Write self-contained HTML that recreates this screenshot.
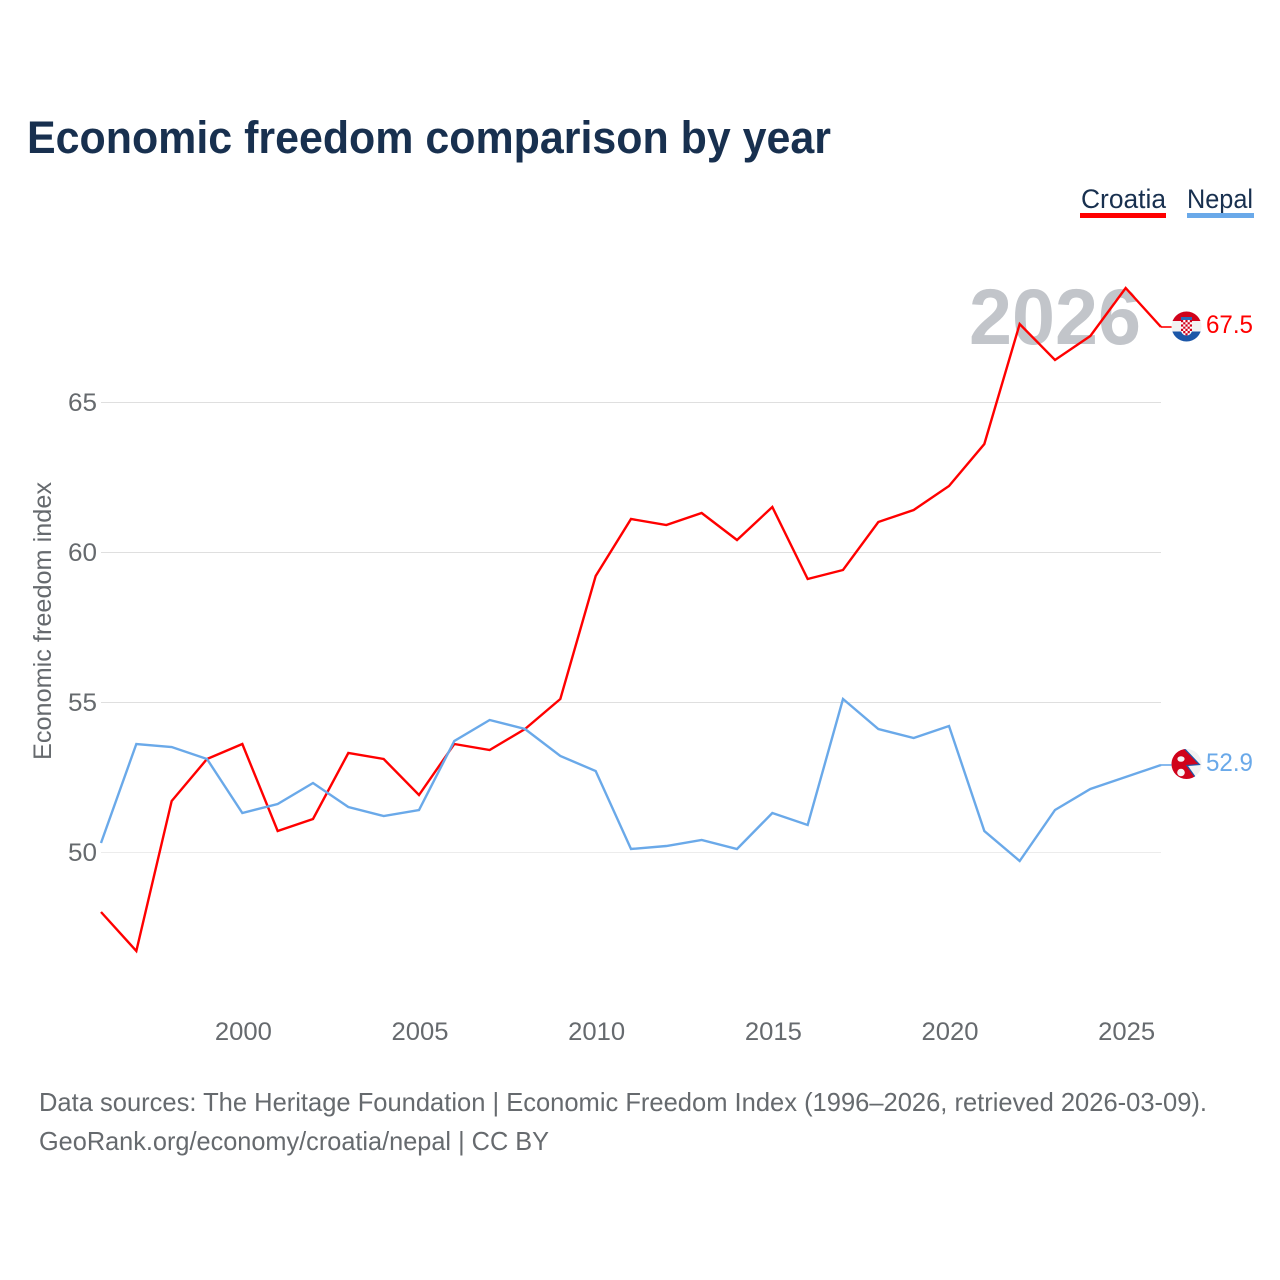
<!DOCTYPE html>
<html lang="en">
<head>
<meta charset="utf-8">
<title>Economic freedom comparison by year</title>
<style>
html,body{margin:0;padding:0;background:#fff;}
svg{display:block;font-family:"Liberation Sans",sans-serif;}
</style>
</head>
<body>
<svg id="chart" xmlns="http://www.w3.org/2000/svg" width="1280" height="1280" viewBox="0 0 1280 1280">
  <rect width="1280" height="1280" fill="#ffffff"/>
  <text x="27" y="153" font-size="45" font-weight="700" fill="#18304f" textLength="804" lengthAdjust="spacingAndGlyphs">Economic freedom comparison by year</text>
  <g id="grid"></g>
  <text x="1141" y="344" font-size="79" font-weight="700" fill="#c2c5ca" text-anchor="end" textLength="172" lengthAdjust="spacingAndGlyphs">2026</text>
  <g id="yticks"></g>
  <g id="xticks"></g>
  <text transform="translate(51,621) rotate(-90)" font-size="25" fill="#666a6e" text-anchor="middle" textLength="278" lengthAdjust="spacingAndGlyphs">Economic freedom index</text>
  <g id="series"></g>

  <g>
    <text x="1081" y="208" font-size="27" fill="#18304f" textLength="85" lengthAdjust="spacingAndGlyphs">Croatia</text>
    <rect x="1080" y="213" width="86" height="5" fill="#ff0000"/>
  </g>
  <g>
    <text x="1187" y="208" font-size="27" fill="#18304f" textLength="66" lengthAdjust="spacingAndGlyphs">Nepal</text>
    <rect x="1187" y="213" width="67" height="5" fill="#6aa9e9"/>
  </g>

  <defs>
    <clipPath id="flagClipHr"><circle cx="1186.500" cy="326.500" r="15"/></clipPath>
    <clipPath id="flagClipNp"><circle cx="1186.500" cy="764" r="15"/></clipPath>
  </defs>
  <g id="flag-croatia" clip-path="url(#flagClipHr)">
    <rect x="1171" y="311" width="31" height="10" fill="#d0021b"/>
    <rect x="1171" y="321" width="31" height="10.500" fill="#f2f2f2"/>
    <rect x="1171" y="331.500" width="31" height="10" fill="#1c57a8"/>
    <rect x="1181" y="317" width="11" height="3" fill="#2a6ab8"/>
    <path d="M1181 320h11v10a5.500 5.500 0 0 1-11 0z" fill="#ffffff"/>
    <path d="M1181 320h2.200v2.200h-2.200zM1185.400 320h2.200v2.200h-2.200zM1189.800 320h2.200v2.200h-2.200zM1183.200 322.200h2.200v2.200h-2.200zM1187.600 322.200h2.200v2.200h-2.200zM1181 324.400h2.200v2.200h-2.200zM1185.400 324.400h2.200v2.200h-2.200zM1189.800 324.400h2.200v2.200h-2.200zM1183.200 326.600h2.200v2.200h-2.200zM1187.600 326.600h2.200v2.200h-2.200zM1181 328.800h2.200v2.200h-2.200zM1185.400 328.800h2.200v2.200h-2.200zM1189.800 328.800h2.200v2.200h-2.200zM1183.200 331h2.200v2.200h-2.200zM1187.600 331h2.200v2.200h-2.200zM1185.400 333.200h2.200v2.200h-2.200z" fill="#d0021b"/>
  </g>
  <g id="flag-nepal" clip-path="url(#flagClipNp)">
    <rect x="1171" y="748" width="32" height="32" fill="#f2f2f2"/>
    <path d="M1171 745L1181 745L1199.500 764.500L1187 765.500L1198 781L1171 781Z" fill="#d0021b" stroke="#1c57a8" stroke-width="1.200"/>
    <ellipse cx="1181" cy="759" rx="3.600" ry="2.800" fill="#f6f6f6"/>
    <circle cx="1181" cy="772.500" r="3.800" fill="#f6f6f6"/>
  </g>
  <text id="label-croatia" x="1206" y="333" font-size="25" fill="#ff0000" textLength="47" lengthAdjust="spacingAndGlyphs"></text>
  <text id="label-nepal" x="1206" y="771" font-size="25" fill="#6aa9e9" textLength="47" lengthAdjust="spacingAndGlyphs"></text>

  <text x="39" y="1111" font-size="26" fill="#666a6e" textLength="1168" lengthAdjust="spacingAndGlyphs">Data sources: The Heritage Foundation | Economic Freedom Index (1996–2026, retrieved 2026-03-09).</text>
  <text x="39" y="1150" font-size="26" fill="#666a6e" textLength="510" lengthAdjust="spacingAndGlyphs">GeoRank.org/economy/croatia/nepal | CC BY</text>
</svg>
<script>
const years = [1996,1997,1998,1999,2000,2001,2002,2003,2004,2005,2006,2007,2008,2009,2010,2011,2012,2013,2014,2015,2016,2017,2018,2019,2020,2021,2022,2023,2024,2025,2026];
const croatiaValues = [48.0,46.7,51.7,53.1,53.6,50.7,51.1,53.3,53.1,51.9,53.6,53.4,54.1,55.1,59.2,61.1,60.9,61.3,60.4,61.5,59.1,59.4,61.0,61.4,62.2,63.6,67.6,66.4,67.2,68.8,67.5];
const nepalValues = [50.3,53.6,53.5,53.1,51.3,51.6,52.3,51.5,51.2,51.4,53.7,54.4,54.1,53.2,52.7,50.1,50.2,50.4,50.1,51.3,50.9,55.1,54.1,53.8,54.2,50.7,49.7,51.4,52.1,52.5,52.9];
const yTickValues = [50,55,60,65];
const xTickValues = [2000,2005,2010,2015,2020,2025];

const NS = 'http://www.w3.org/2000/svg';
const plotLeft = 101, plotRight = 1161;
const xScale = function (year) {
  return plotLeft + (year - years[0]) * (plotRight - plotLeft) / (years[years.length - 1] - years[0]);
};
const yScale = function (value) {
  return 852 - (value - 50) * 30;
};
const make = function (tag, attrs) {
  const el = document.createElementNS(NS, tag);
  Object.keys(attrs).forEach(function (k) { el.setAttribute(k, attrs[k]); });
  return el;
};

const grid = document.getElementById('grid');
const yticks = document.getElementById('yticks');
yTickValues.forEach(function (v) {
  const gy = yScale(v) + 0.5;
  const line = make('line', {x1: plotLeft, x2: plotRight, y1: gy, y2: gy, stroke: v === 50 ? '#ececec' : '#dfdfdf', 'stroke-width': 1});
  
  
  grid.appendChild(line);
  const label = make('text', {x: 97, y: gy + 8.5, 'font-size': 25, fill: '#666a6e', 'text-anchor': 'end', textLength: 29, lengthAdjust: 'spacingAndGlyphs'});
  
  
  label.textContent = String(v);
  yticks.appendChild(label);
});

const xticks = document.getElementById('xticks');
xTickValues.forEach(function (yr) {
  const label = make('text', {x: xScale(yr) + 1, y: 1040, 'font-size': 25, fill: '#666a6e', 'text-anchor': 'middle', textLength: 57, lengthAdjust: 'spacingAndGlyphs'});
  
  
  label.textContent = String(yr);
  xticks.appendChild(label);
});

const seriesGroup = document.getElementById('series');
const drawSeries = function (values, color) {
  const pts = values.map(function (v, i) { return xScale(years[i]).toFixed(2) + ',' + yScale(v).toFixed(2); }).join(' ');
  const line = make('polyline', {points: pts, fill: 'none', stroke: color, 'stroke-width': 2.4, 'stroke-linejoin': 'miter'});
  
  
  seriesGroup.appendChild(line);
  const lastY = yScale(values[values.length - 1]);
  const tail = make('line', {x1: plotRight, x2: 1172, y1: lastY, y2: lastY, stroke: color, 'stroke-width': 1.6});
  
  
  seriesGroup.appendChild(tail);
};
drawSeries(croatiaValues, '#ff0000');
drawSeries(nepalValues, '#6aa9e9');

document.getElementById('label-croatia').textContent = croatiaValues[croatiaValues.length - 1].toFixed(1);
document.getElementById('label-nepal').textContent = nepalValues[nepalValues.length - 1].toFixed(1);
</script>
</body>
</html>
